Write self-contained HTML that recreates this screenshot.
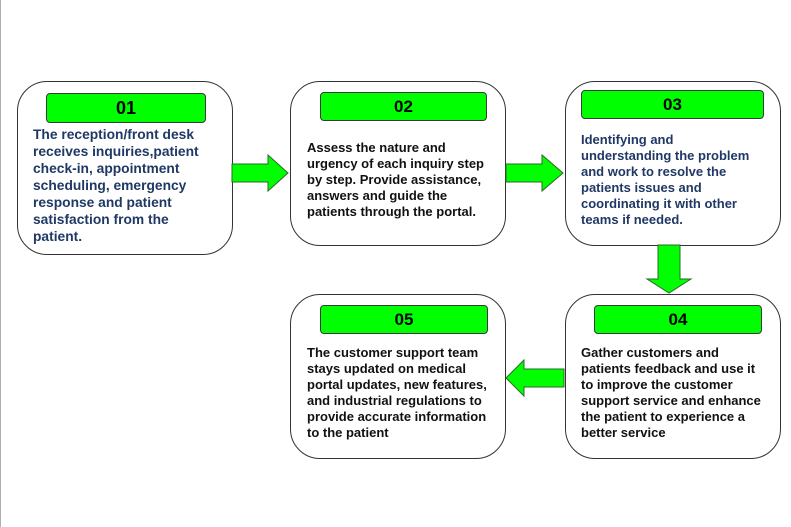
<!DOCTYPE html>
<html><head><meta charset="utf-8"><style>
html,body{margin:0;padding:0;}
body{width:791px;height:527px;position:relative;background:#fff;overflow:hidden;font-family:"Liberation Sans",Arial,sans-serif;}
.edge{position:absolute;left:0;top:0;width:1px;height:527px;background:#b0b0b0;}
.box{position:absolute;border:1.3px solid #333;border-radius:30px;background:#fff;box-sizing:border-box;}
.lab{position:absolute;background:#00ff00;border:1px solid #3a3a3a;border-radius:4px;box-sizing:border-box;font-weight:bold;font-size:17px;text-align:center;color:#000;}
.txt{position:absolute;font-weight:bold;font-size:13px;line-height:16px;white-space:nowrap;color:#111;}
.navy{color:#1f3864;}
svg{position:absolute;left:0;top:0;}
</style></head><body>
<div class="edge"></div>

<div class="box" style="left:17px;top:81px;width:216px;height:174px;"></div>
<div class="lab" style="left:46px;top:93px;width:160px;height:30px;line-height:28px;font-size:18px;">01</div>
<div class="txt navy" style="left:33px;top:126px;line-height:17px;font-size:13.8px;">The reception/front desk<br>receives inquiries,patient<br>check-in, appointment<br>scheduling, emergency<br>response and patient<br>satisfaction from the<br>patient.</div>

<div class="box" style="left:290px;top:81px;width:216px;height:165px;"></div>
<div class="lab" style="left:320px;top:92px;width:167px;height:29px;line-height:27px;">02</div>
<div class="txt" style="left:307px;top:140px;">Assess the nature and<br>urgency of each inquiry step<br>by step. Provide assistance,<br>answers and guide the<br>patients through the portal.</div>

<div class="box" style="left:565px;top:81px;width:216px;height:165px;"></div>
<div class="lab" style="left:581px;top:90px;width:183px;height:29px;line-height:27px;">03</div>
<div class="txt navy" style="left:581px;top:132px;">Identifying and<br>understanding the problem<br>and work to resolve the<br>patients issues and<br>coordinating it with other<br>teams if needed.</div>

<div class="box" style="left:565px;top:294px;width:216px;height:165px;"></div>
<div class="lab" style="left:594px;top:305px;width:168px;height:29px;line-height:27px;">04</div>
<div class="txt" style="left:581px;top:345px;">Gather customers and<br>patients feedback and use it<br>to improve the customer<br>support service and enhance<br>the patient to experience a<br>better service</div>

<div class="box" style="left:290px;top:294px;width:216px;height:165px;"></div>
<div class="lab" style="left:320px;top:305px;width:168px;height:29px;line-height:27px;">05</div>
<div class="txt" style="left:307px;top:345px;">The customer support team<br>stays updated on medical<br>portal updates, new features,<br>and industrial regulations to<br>provide accurate information<br>to the patient</div>

<svg width="791" height="527">
<g fill="#00ff00" stroke="#2a6a2a" stroke-width="1">
<polygon points="232,164 268,164 268,155 288,173 268,191 268,182 232,182"/>
<polygon points="506,164 542,164 542,155 563,173 542,191 542,182 506,182"/>
<polygon points="658,245 680,245 680,279 691,279 669,293 647,279 658,279"/>
<polygon points="564,369 524,369 524,360 506,378 524,396 524,387 564,387"/>
</g>
</svg>
</body></html>
